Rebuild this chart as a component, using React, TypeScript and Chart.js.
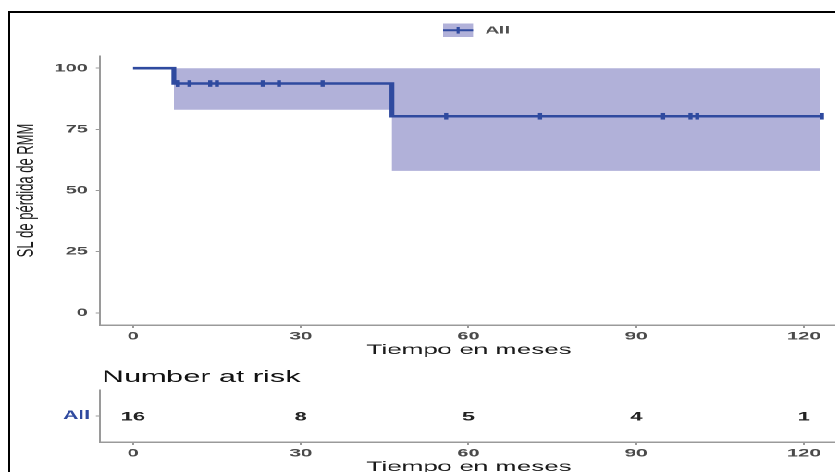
import React, { useEffect, useRef } from 'react';
import { Chart, registerables } from 'chart.js';
Chart.register(...registerables);

// ---------- data ----------
const eventTimes = [0, 7.3, 46.3];
const survival = [100, 93.75, 80.36];
const ciLower = [100, 83, 58];
const ciUpper = [100, 100, 100];
const lastTime = 123.2;
const censorTimes = [8.0, 8.0, 10.1, 13.8, 15.0, 23.2, 26.1, 33.9, 56.0, 72.8, 94.8, 99.7, 100.9, 123.2];
const xTicks = [0, 30, 60, 90, 120];
const yTicks = [0, 25, 50, 75, 100];
const riskTimes = [0, 30, 60, 90, 120];
const riskCounts = [16, 8, 5, 4, 1];
const strataLabel = 'All';
const yTitle = 'SL de pérdida de RMM';
const xTitle = 'Tiempo en meses';
const riskTitle = 'Number at risk';

// ---------- style ----------
const S = 1.85; // horizontal stretch of the reference picture
const FONT = "'Liberation Sans', Arial, sans-serif";
const LINE = '#2F4A9F';
const BAND = '#B1B1D9';
const AXIS = '#9A9A9A';
const TICKTXT = '#4A4A4A';
const XMIN = -5.906;
const XMAX = 126.09;
const W = 480;
const PAD_RIGHT = W - 453;
const Y_AXIS_W = 54.05;

function survAt(t: number) {
  let v = survival[0];
  for (let i = 0; i < eventTimes.length; i++) if (eventTimes[i] <= t) v = survival[i];
  return v;
}

function xScaleOpts(height: number, titlePadBottom: number) {
  return {
    type: 'linear' as const,
    min: XMIN,
    max: XMAX,
    afterBuildTicks: (s: any) => { s.ticks = xTicks.map((v) => ({ value: v })); },
    afterFit: (s: any) => { s.height = height; },
    grid: { display: true, drawOnChartArea: false, drawTicks: true, tickLength: 3, tickColor: AXIS, tickWidth: 1 },
    border: { display: true, color: AXIS, width: 1.5 },
    ticks: { padding: 2, color: TICKTXT, font: { family: FONT, size: 11, weight: 'bold' }, maxRotation: 0, autoSkip: false },
    title: { display: true, text: xTitle, color: '#1a1a1a', font: { family: FONT, size: 14 }, padding: { top: 0, bottom: titlePadBottom } },
  };
}

const mainDecor = {
  id: 'mainDecor',
  afterDraw(chart: any) {
    const ctx = chart.ctx;
    ctx.save();
    ctx.fillStyle = BAND;
    ctx.fillRect(239.5, 23.5, 16.2, 13.5);
    ctx.strokeStyle = LINE;
    ctx.lineWidth = 2;
    ctx.beginPath(); ctx.moveTo(239.5, 30.3); ctx.lineTo(255.7, 30.3); ctx.stroke();
    ctx.lineWidth = 1.6;
    ctx.beginPath(); ctx.moveTo(247.6, 27); ctx.lineTo(247.6, 33.6); ctx.stroke();
    ctx.fillStyle = '#505050';
    ctx.font = `bold 10.5px ${FONT}`;
    ctx.textBaseline = 'middle';
    ctx.textAlign = 'left';
    ctx.fillText(strataLabel, 262.2, 30.5);
    ctx.restore();
  },
};

const riskDecor = {
  id: 'riskDecor',
  afterDraw(chart: any) {
    const ctx = chart.ctx;
    ctx.save();
    ctx.fillStyle = '#111';
    ctx.font = `16.5px ${FONT}`;
    ctx.textAlign = 'left';
    ctx.textBaseline = 'alphabetic';
    ctx.fillText(riskTitle, 55.1, 22);
    const meta = chart.getDatasetMeta(0);
    ctx.fillStyle = '#222';
    ctx.font = `bold 12px ${FONT}`;
    ctx.textAlign = 'center';
    ctx.textBaseline = 'middle';
    meta.data.forEach((pt: any, i: number) => {
      ctx.fillText(String(riskCounts[i]), pt.x, pt.y + 1);
    });
    ctx.restore();
  },
};

export default function App() {
  const mainRef = useRef<HTMLCanvasElement>(null);
  const riskRef = useRef<HTMLCanvasElement>(null);

  useEffect(() => {
    const kmPoints = eventTimes.map((t, i) => ({ x: t, y: survival[i] }));
    kmPoints.push({ x: lastTime, y: survival[survival.length - 1] });
    const bandIdx = eventTimes.map((_, i) => i).filter((i) => ciLower[i] !== ciUpper[i]);
    const upperPts = bandIdx.map((i) => ({ x: eventTimes[i], y: ciUpper[i] }));
    upperPts.push({ x: lastTime - 0.4, y: ciUpper[ciUpper.length - 1] });
    const lowerPts = bandIdx.map((i) => ({ x: eventTimes[i], y: ciLower[i] }));
    lowerPts.push({ x: lastTime - 0.4, y: ciLower[ciLower.length - 1] });
    const censorPts = censorTimes.map((t) => ({ x: t, y: survAt(t) }));

    const main = new Chart(mainRef.current!, {
      type: 'line',
      data: {
        datasets: [
          { data: kmPoints, stepped: 'before', borderColor: LINE, borderWidth: 2.6, pointRadius: 0, fill: false },
          {
            data: censorPts, showLine: false, pointStyle: 'line', rotation: 90, pointRadius: 3.3,
            pointBorderWidth: 2.2, pointBorderColor: LINE, borderColor: LINE, backgroundColor: LINE, fill: false,
          },
          { data: upperPts, stepped: 'before', borderWidth: 0, pointRadius: 0, fill: false, borderColor: 'rgba(0,0,0,0)' },
          { data: lowerPts, stepped: 'before', borderWidth: 0, pointRadius: 0, fill: '-1', backgroundColor: BAND, borderColor: 'rgba(0,0,0,0)' },
        ],
      } as any,
      options: {
        animation: false,
        responsive: false,
        devicePixelRatio: 2,
        layout: { padding: { left: 0, right: PAD_RIGHT, top: 56, bottom: 0 } },
        plugins: { legend: { display: false }, tooltip: { enabled: false } },
        scales: {
          x: xScaleOpts(37, 3.6),
          y: {
            type: 'linear',
            min: -5,
            max: 105,
            afterBuildTicks: (s: any) => { s.ticks = yTicks.map((v) => ({ value: v })); },
            afterFit: (s: any) => { s.width = Y_AXIS_W; },
            grid: { display: true, drawOnChartArea: false, drawTicks: true, tickLength: 2.2, tickColor: AXIS, tickWidth: 1 },
            border: { display: true, color: AXIS, width: 1 },
            ticks: { padding: 4.3, color: TICKTXT, font: { family: FONT, size: 11, weight: 'bold' } },
            title: { display: true, text: yTitle, color: '#1a1a1a', font: { family: FONT, size: 13 }, padding: { top: 6.8, bottom: 0 } },
          },
        },
      } as any,
      plugins: [mainDecor],
    });

    const risk = new Chart(riskRef.current!, {
      type: 'line',
      data: {
        datasets: [
          { data: riskTimes.map((t) => ({ x: t, y: 0.5 })), showLine: false, pointRadius: 0 },
        ],
      } as any,
      options: {
        animation: false,
        responsive: false,
        devicePixelRatio: 2,
        layout: { padding: { left: 0, right: PAD_RIGHT, top: 30, bottom: 0 } },
        plugins: { legend: { display: false }, tooltip: { enabled: false } },
        scales: {
          x: xScaleOpts(35, 1.6),
          y: {
            type: 'linear',
            min: 0,
            max: 1,
            afterBuildTicks: (s: any) => { s.ticks = [{ value: 0.5 }]; },
            afterFit: (s: any) => { s.width = Y_AXIS_W; },
            grid: { display: true, drawOnChartArea: false, drawTicks: true, tickLength: 2.2, tickColor: AXIS, tickWidth: 1 },
            border: { display: true, color: AXIS, width: 1 },
            ticks: { padding: 3.2, color: LINE, font: { family: FONT, size: 11.5, weight: 'bold' }, callback: () => strataLabel },
          },
        },
      } as any,
      plugins: [riskDecor],
    });

    return () => { main.destroy(); risk.destroy(); };
  }, []);

  return (
    <div style={{ position: 'fixed', left: 0, top: 0, width: 835, height: 472, overflow: 'hidden', background: '#fff' }}>
      <div style={{ position: 'absolute', left: 0, top: 0, width: W, height: 480, transform: `scaleX(${S})`, transformOrigin: '0 0' }}>
        <canvas ref={mainRef} width={W} height={362} style={{ position: 'absolute', left: 0, top: 0, width: W, height: 362 }} />
        <canvas ref={riskRef} width={W} height={117} style={{ position: 'absolute', left: 0, top: 360, width: W, height: 117 }} />
      </div>
      <div style={{ position: 'absolute', left: 8, top: 11, width: 900, height: 500, borderLeft: '2px solid #000', borderTop: '2px solid #000' }} />
    </div>
  );
}
